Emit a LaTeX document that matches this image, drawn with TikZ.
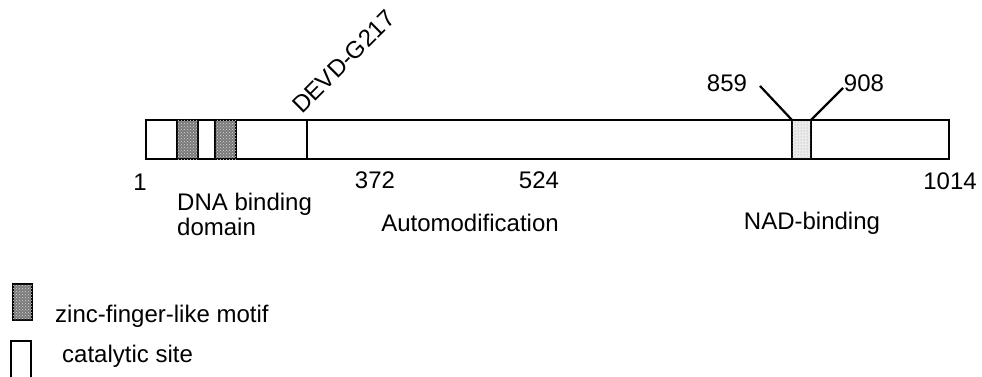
\documentclass[tikz,border=0pt]{standalone}
\usepackage{fontspec}
\setmainfont{Liberation Sans}
\usetikzlibrary{patterns}
\definecolor{zincFill}{HTML}{7a7a7a}
\definecolor{siteFill}{HTML}{ececec}
\def\barL{146}
\def\barR{949}
\def\barT{120}
\def\barB{159}
\def\lineW{2.2pt}

\begin{document}
\begin{tikzpicture}[x=1pt, y=-1pt,
                    font=\fontsize{24}{25}\selectfont,
                    every node/.style={inner sep=0pt}]

    \useasboundingbox (0,0) rectangle (982,377);

    % ==========================================================
    % 1. NAMED COORDINATES
    % ==========================================================
    \coordinate (barTL)  at (\barL, \barT);
    \coordinate (barBR)  at (\barR, \barB);

    \coordinate (zincAL) at (177, \barT);
    \coordinate (zincAR) at (198, \barB);
    \coordinate (zincBL) at (215, \barT);
    \coordinate (zincBR) at (236, \barB);

    \coordinate (devdT)  at (307, \barT);
    \coordinate (devdB)  at (307, \barB);

    \coordinate (siteTL) at (792, \barT);
    \coordinate (siteBR) at (811, \barB);
    \coordinate (siteTR) at (811, \barT);
    \coordinate (tickA)  at (760, 86);
    \coordinate (tickB)  at (843, 88);

    % ==========================================================
    % 2. PROTEIN BAR
    % ==========================================================
    \draw[line width=\lineW] (barTL) rectangle (barBR);

    % zinc fingers
    \filldraw[fill=zincFill, line width=\lineW] (zincAL) rectangle (zincAR);
    \fill[pattern=crosshatch dots, pattern color=white!85!black]
        (zincAL) rectangle (zincAR);
    \filldraw[fill=zincFill, line width=\lineW] (zincBL) rectangle (zincBR);
    \fill[pattern=crosshatch dots, pattern color=white!85!black]
        (zincBL) rectangle (zincBR);

    % caspase cleavage site
    \draw[line width=\lineW] (devdT) -- (devdB);

    % catalytic site
    \filldraw[fill=siteFill, line width=\lineW] (siteTL) rectangle (siteBR);
    \fill[pattern=dots, pattern color=black!40] (siteTL) rectangle (siteBR);
    \draw[line width=\lineW] (tickA) -- (siteTL);
    \draw[line width=\lineW] (tickB) -- (siteTR);

    % ==========================================================
    % 3. LABELS
    % ==========================================================
    \node[rotate=45, anchor=base west] (devdLabel) at (302,115) {DEVD-G217};
    \node (lab859) at (727,83) {859};
    \node (lab908) at (864,83) {908};

    \node (pos1)    at (140,182) {1};
    \node (pos372)  at (375,180) {372};
    \node (pos524)  at (539,180) {524};
    \node (pos1014) at (950,181) {1014};

    \node[align=left, anchor=west] (dnaLabel) at (177,214)
        {DNA binding\\domain};
    \node (autoLabel) at (470,223) {Automodification};
    \node (nadLabel)  at (812,223) {NAD-binding};

    % ==========================================================
    % 4. LEGEND
    % ==========================================================
    \filldraw[fill=zincFill, line width=\lineW] (13,284) rectangle (32,320);
    \fill[pattern=crosshatch dots, pattern color=white!85!black]
        (13,284) rectangle (32,320);
    \node[anchor=west] (zincKey) at (55,316) {zinc-finger-like motif};

    \draw[line width=\lineW] (11,341) rectangle (31,380);
    \node[anchor=west] (siteKey) at (62,356) {catalytic site};

\end{tikzpicture}
\end{document}
